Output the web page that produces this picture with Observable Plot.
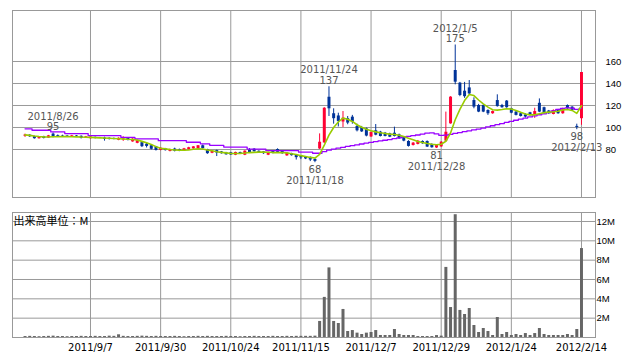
<!DOCTYPE html>
<html><head><meta charset="utf-8">
<script src="https://cdn.jsdelivr.net/npm/d3@7"></script>
<script src="https://cdn.jsdelivr.net/npm/@observablehq/plot@0.6"></script>
<style>
body{margin:0;background:#fff;}
#chart{width:638px;height:362px;overflow:hidden;}
#chart svg{display:block;}
</style></head><body><div id="chart"></div>
<script>
// ---- data (trading-day index 0 = 2011/8/18 ... 119 = 2012/2/14) ----
const opens = [92.0,93.0,91.8,89.8,91.6,90.4,94.0,92.6,92.4,92.2,91.8,92.3,92.0,90.4,89.8,91.0,90.6,90.4,90.2,90.0,
88.4,88.6,90.0,86.9,85.6,86.2,84.8,83.4,82.4,79.2,80.6,78.2,80.4,80.0,78.6,79.8,80.6,80.8,83.4,79.8,
76.6,79.0,77.8,77.0,77.0,74.8,77.2,74.8,79.4,80.3,78.4,77.8,74.8,78.4,80.0,78.4,74.2,76.2,74.8,74.0,
73.2,72.8,71.0,80.5,86.0,127.5,112.5,110.5,105.0,108.0,109.4,101.0,100.0,98.8,91.4,97.0,95.8,94.8,94.2,94.8,
93.3,91.2,87.3,83.6,84.6,87.3,87.3,84.6,81.4,82.4,87.6,103.3,151.8,140.3,133.0,136.0,124.5,120.0,120.0,115.5,
112.5,124.5,120.0,124.0,117.0,114.0,112.5,111.5,113.4,111.0,122.0,118.0,115.0,111.8,116.0,112.5,120.0,118.5,101.0,108.0];
const highs = [94.0,93.4,92.2,91.8,92.0,92.8,95.0,93.2,93.0,92.8,92.8,92.7,92.4,91.9,91.8,91.4,91.0,91.2,90.6,90.5,
90.6,91.6,90.3,89.8,88.6,86.6,85.8,83.8,82.8,81.6,81.0,80.4,81.2,80.4,81.0,82.0,82.6,83.6,84.0,80.2,
78.8,79.4,78.2,77.4,77.4,77.6,77.6,78.8,80.8,80.8,78.8,78.2,77.6,78.8,80.6,78.8,77.0,76.6,75.2,74.4,
73.6,73.2,71.4,94.2,118.0,137.0,117.0,113.0,114.5,110.0,111.0,103.0,101.0,99.5,96.0,102.7,96.5,95.5,94.8,100.3,
94.0,91.8,88.0,86.4,88.2,87.8,87.8,85.2,84.2,87.2,114.0,128.0,175.0,141.0,141.0,142.7,127.0,121.0,120.5,116.0,
115.0,129.7,121.0,124.5,117.5,114.5,113.0,112.5,113.8,117.5,126.0,118.5,115.5,116.0,116.5,117.5,120.5,119.0,103.0,150.0];
const lows = [91.0,91.0,89.4,89.4,89.6,90.0,90.6,91.6,91.8,91.6,91.5,91.2,89.6,90.0,89.5,89.6,90.0,87.6,88.6,88.8,
88.0,87.4,87.8,86.6,85.2,81.8,81.4,79.6,78.6,78.8,78.6,77.8,77.8,78.0,78.2,79.4,80.2,80.4,80.4,75.6,
76.2,73.6,75.8,74.8,74.6,74.4,75.4,74.4,76.8,77.6,76.4,75.6,74.4,76.0,76.8,75.6,73.8,74.0,70.4,70.8,
70.8,69.0,68.0,80.0,85.5,110.0,103.0,100.5,100.0,102.5,103.0,96.0,95.5,91.5,91.0,92.5,91.4,91.5,90.8,91.4,
89.2,87.0,82.2,83.2,84.2,84.8,81.8,81.2,81.0,82.0,86.8,103.0,138.8,128.0,126.5,129.5,117.0,113.5,113.5,111.0,
112.0,118.5,117.5,117.5,112.5,110.5,109.5,108.5,110.5,108.3,113.5,112.0,112.0,111.5,112.0,112.0,116.5,115.0,98.0,102.0];
const closes = [93.2,91.6,89.8,91.3,90.0,92.4,91.4,91.9,92.0,91.8,92.4,91.6,90.2,91.5,91.4,90.0,90.2,89.2,89.4,89.2,
90.2,89.6,88.4,89.4,88.0,82.6,82.8,80.2,79.2,81.2,79.0,80.0,78.4,78.4,80.6,81.6,82.4,83.4,80.8,76.2,
78.4,76.8,76.2,75.2,75.0,77.3,75.6,78.5,77.2,78.0,76.8,76.2,77.2,76.4,77.4,76.2,76.6,74.4,72.6,72.4,
71.4,70.4,69.2,86.6,117.5,117.0,108.0,105.5,108.5,104.0,104.9,97.0,96.0,92.2,95.4,93.0,91.8,91.8,91.2,91.8,
89.7,87.6,82.8,85.8,87.6,85.2,82.2,81.6,83.6,86.6,95.7,127.6,141.2,129.1,128.0,130.5,118.5,114.0,114.0,112.5,
114.5,119.0,118.0,118.0,113.0,111.0,110.0,109.5,111.0,114.5,114.0,112.5,112.5,115.5,112.5,117.0,117.0,115.5,100.0,150.0];
// moving averages as drawn on the chart (short = green, long = purple)
const maShort = [93.3,92.8,92.2,91.8,91.5,91.4,91.6,91.6,91.7,91.7,91.6,91.5,91.3,91.2,91.0,90.8,90.6,90.4,90.2,90.0,
89.8,89.6,89.3,89.1,88.6,87.4,86.2,84.6,82.6,81.2,80.6,80.0,79.6,79.4,79.3,79.6,80.2,80.6,80.4,79.6,
78.8,78.0,77.4,76.9,76.4,76.3,76.5,76.8,77.2,77.4,77.6,77.6,77.5,77.2,77.3,77.2,76.9,76.2,75.4,74.4,
73.6,72.8,72.2,75.5,84.0,93.0,100.0,105.0,108.5,107.5,105.5,102.5,100.3,98.5,97.0,96.0,95.2,94.6,94.0,93.6,
93.0,91.8,90.2,88.8,87.2,86.3,85.5,84.8,84.3,84.8,87.5,95.0,107.0,116.5,124.5,130.0,129.0,125.0,121.5,118.5,
116.2,115.8,116.3,117.0,116.8,115.5,113.8,112.3,111.5,111.5,112.5,113.5,114.0,114.3,114.8,116.0,116.3,115.5,112.8,119.8];
const maLong = [98.8,98.8,97.5,97.5,97.5,97.5,96.0,96.0,96.0,94.5,94.5,94.5,94.5,94.5,92.6,92.6,92.6,92.6,92.6,92.6,
92.6,91.0,91.0,91.0,89.6,89.6,89.6,89.6,89.6,88.0,88.0,88.0,88.0,88.0,88.0,86.6,86.6,86.6,85.2,85.2,
83.8,83.8,83.8,82.2,82.2,82.2,82.2,82.2,80.4,80.4,80.4,80.4,79.0,79.0,79.0,79.0,79.0,79.0,79.0,77.6,
77.6,77.6,76.6,76.6,78.0,79.4,80.4,81.2,82.0,82.8,83.5,84.2,85.0,85.8,86.5,87.2,87.8,88.4,89.0,89.8,
90.6,91.4,92.0,92.6,93.2,94.0,94.8,95.2,94.2,92.8,93.0,93.8,94.6,95.4,96.2,97.0,97.8,98.6,99.4,100.6,
101.6,102.6,103.6,104.6,105.6,106.6,107.6,108.6,109.6,110.6,111.6,112.4,113.6,115.0,116.4,117.4,117.8,117.6,116.4,117.4];
// volume, millions of shares
const volumes = [0.10,0.12,0.10,0.08,0.10,0.12,0.14,0.10,0.10,0.08,0.10,0.10,0.12,0.10,0.10,0.12,0.10,0.10,0.14,0.12,
0.28,0.12,0.10,0.10,0.12,0.14,0.12,0.10,0.12,0.10,0.10,0.10,0.12,0.10,0.08,0.10,0.10,0.12,0.10,0.12,
0.10,0.10,0.10,0.12,0.10,0.10,0.08,0.10,0.10,0.12,0.10,0.10,0.10,0.12,0.10,0.10,0.12,0.10,0.12,0.12,
0.12,0.12,0.14,1.66,4.15,7.2,1.66,1.45,2.9,0.62,0.72,0.45,0.31,0.45,0.52,0.72,0.21,0.21,0.21,0.83,
0.31,0.21,0.21,0.21,0.10,0.10,0.10,0.10,0.20,0.14,7.25,3.1,12.7,2.8,2.38,3.0,1.24,0.52,0.93,0.62,
0.21,2.07,0.31,0.52,0.21,0.31,0.21,0.41,0.21,0.41,0.93,0.31,0.21,0.21,0.21,0.21,0.31,0.21,0.83,9.2];

const tickIndex = [14,29,44,59,74,89,104,119];
const tickLabels = ["2011/9/7","2011/9/30","2011/10/24","2011/11/15","2011/12/7","2011/12/29","2012/1/24","2012/2/14"];
const priceTicks = [80,100,120,140,160];
const volumeTicks = [2,4,6,8,10,12];
const highNotes = [{i:6,price:95,date:"2011/8/26"},{i:65,price:137,date:"2011/11/24"},{i:92,price:175,date:"2012/1/5"}];
const lowNotes = [{i:62,price:68,date:"2011/11/18"},{i:88,price:81,date:"2011/12/28"},{i:118,price:98,date:"2012/2/13"}];
const volumeUnit = "出来高単位：M";

// ---- build ----
const rows = opens.map((o,i)=>({i, open:o, high:highs[i], low:lows[i], close:closes[i],
  vol:volumes[i], maS:maShort[i], maL:maLong[i]}));
const UP="#ff0033", DOWN="#003399", GRID="#999999", NOTE="#555555";
const colorOf = d => d.close >= d.open ? UP : DOWN;
const xDomain = [-2.68, 122];
const font = "DejaVu Sans";

const topChart = Plot.plot({
  width:638, height:205, marginLeft:12, marginRight:43, marginTop:10, marginBottom:8,
  style:{fontFamily:font, fontSize:"10px", background:"#fff", color:"#000", overflow:"visible"},
  x:{domain:xDomain, axis:null, label:null},
  y:{domain:[36.36,206.36], axis:null, label:null},
  marks:[
    Plot.ruleY(priceTicks,{stroke:GRID}),
    Plot.ruleX(tickIndex,{stroke:GRID}),
    Plot.frame({stroke:GRID}),
    Plot.ruleX(rows,{x:"i", y1:"low", y2:"high", stroke:colorOf, strokeWidth:1}),
    Plot.ruleX(rows,{x:"i", y1:"open", y2:"close", stroke:colorOf, strokeWidth:3}),
    Plot.line(rows,{x:"i", y:"maL", stroke:"#9900ff", strokeWidth:1.3, curve:"step"}),
    Plot.line(rows,{x:"i", y:"maS", stroke:"#99cc00", strokeWidth:1.6}),
    Plot.axisY(priceTicks,{anchor:"right", label:null, tickSize:0, tickPadding:10, fontFamily:"Liberation Sans", fontSize:9.5}),
    Plot.text(highNotes,{x:"i", y:"price", text:d=>String(d.price), dy:-6, fill:NOTE, lineAnchor:"middle"}),
    Plot.text(highNotes,{x:"i", y:"price", text:"date", dy:-16.5, fill:NOTE, lineAnchor:"middle"}),
    Plot.text(lowNotes,{x:"i", y:"price", text:d=>String(d.price), dy:7, fill:NOTE, lineAnchor:"middle"}),
    Plot.text(lowNotes,{x:"i", y:"price", text:"date", dy:18, fill:NOTE, lineAnchor:"middle"})
  ]
});

const bottomChart = Plot.plot({
  width:638, height:157, marginLeft:12, marginRight:43, marginTop:7, marginBottom:25,
  style:{fontFamily:font, fontSize:"10px", background:"#fff", color:"#000", overflow:"visible"},
  x:{domain:xDomain, axis:null, label:null},
  y:{domain:[0,12.93], axis:null, label:null},
  marks:[
    Plot.ruleY(volumeTicks,{stroke:GRID}),
    Plot.ruleX(tickIndex,{stroke:GRID}),
    Plot.frame({stroke:GRID}),
    Plot.ruleX(rows,{x:"i", y1:0, y2:"vol", stroke:"#666666", strokeWidth:3}),
    Plot.axisY(volumeTicks,{anchor:"right", label:null, tickSize:0, tickPadding:1, tickFormat:d=>d+"M", fontFamily:"Liberation Sans", fontSize:9.5}),
    Plot.axisX(tickIndex,{anchor:"bottom", label:null, tickSize:0, tickPadding:6, tickFormat:d=>tickLabels[tickIndex.indexOf(d)]}),
    Plot.text([volumeUnit],{frameAnchor:"top-left", dx:1, dy:9, lineAnchor:"middle", textAnchor:"start",
      fontFamily:"Noto Sans CJK JP", fontSize:11, fill:"#000"})
  ]
});

const el = document.getElementById("chart");
el.appendChild(topChart);
el.appendChild(bottomChart);
</script></body></html>
